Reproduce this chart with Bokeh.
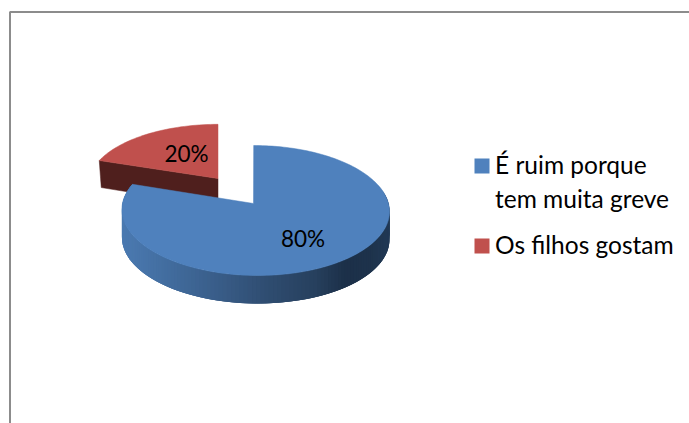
import numpy as np
from bokeh.plotting import figure
from bokeh.models import Range1d
from bokeh.core.properties import value
from bokeh.embed import file_html
from bokeh.resources import INLINE

categories = ["É ruim porque\ntem muita greve", "Os filhos gostam"]
shares = [80, 20]
labels = ["80%", "20%"]
top_colors = ["#4F81BD", "#C0504D"]
FONT = value("Lato")
TEXT = "#000000"

p = figure(width=689, height=423, output_backend="svg", toolbar_location=None,
           x_range=Range1d(0, 689), y_range=Range1d(423, 0),
           min_border=0, outline_line_color=None, background_fill_color="white")
p.axis.visible = False
p.grid.visible = False

# chart-area frame
p.line([9.5, 9.5, 689], [423, 11.5, 11.5], line_color="#8C8C8C", line_width=2)

PERSP = 0.1077
DEPTH = 28

def rim(theta, cx, cy, rx, ry, skew=0.0):
    w = 1 + PERSP * np.cos(theta)
    return (cx + (rx * np.sin(theta) - skew * np.cos(theta)) / w,
            cy - ry * np.cos(theta) / w)

blue_end = np.radians(360 * shares[0] / sum(shares))

# --- red slice (exploded, drawn first so the blue one overlaps it)
rc = dict(cx=217.5, cy=178, rx=129, ry=60)
t_red = np.linspace(blue_end, 2 * np.pi, 40)
rxs, rys = rim(t_red, **rc)
p.patch([rxs[0], rc["cx"], rc["cx"], rxs[0] + 2],
        [rys[0], rc["cy"], rc["cy"] + DEPTH, rys[0] + DEPTH - 1],
        fill_color="#4F1F1D", line_color="#4F1F1D", line_width=0.5)
p.patch(list(rxs) + [rc["cx"]], list(rys) + [rc["cy"]],
        fill_color=top_colors[1], line_color=top_colors[1], line_width=0.5)

# --- blue slice
bc = dict(cx=255, cy=203, rx=133, ry=64.25, skew=2.0)
t_side = np.linspace(np.radians(78), blue_end, 130)
sx, sy = rim(t_side, **bc)
stops_x = [120, 165, 215, 265, 315, 345, 370, 390]
stops_r = [0x4C, 0x43, 0x3A, 0x30, 0x27, 0x1C, 0x1E, 0x22]
stops_g = [0x7B, 0x6E, 0x5E, 0x4E, 0x40, 0x30, 0x33, 0x3A]
stops_b = [0xB2, 0xA0, 0x8A, 0x72, 0x5E, 0x49, 0x4C, 0x56]
for i in range(len(t_side) - 1):
    j = min(i + 3, len(t_side) - 1)
    xm = (sx[i] + sx[i + 1]) / 2
    col = "#%02X%02X%02X" % tuple(int(np.interp(xm, stops_x, s)) for s in (stops_r, stops_g, stops_b))
    p.patch([sx[i], sx[j], sx[j], sx[i]],
            [sy[i], sy[j], sy[j] + DEPTH, sy[i] + DEPTH],
            fill_color=col, line_color=None)

t_top = np.linspace(0, blue_end, 200)
bxs, bys = rim(t_top, **bc)
apex_x = bc["cx"] - 2
p.patch(list(bxs) + [apex_x], list(bys) + [bc["cy"]],
        fill_color=top_colors[0], line_color=top_colors[0], line_width=0.5)

# --- data labels
p.text([302.5, 186], [238, 153], text=labels, text_font=FONT, text_font_size="22.5px",
       text_color=TEXT, text_align="center", text_baseline="alphabetic")

# --- legend
p.quad(left=[474, 474], right=[489, 489], top=[158, 238], bottom=[173, 253],
       fill_color=top_colors, line_color=None)
lines = categories[0].split("\n") + [categories[1]]
p.text([494.5, 494.5, 494.5], [164, 198, 244], text=lines, text_font=FONT, text_font_size="24.5px",
       text_color=TEXT, text_align="left", text_baseline="alphabetic")

open("out.html", "w").write(file_html(p, INLINE))
